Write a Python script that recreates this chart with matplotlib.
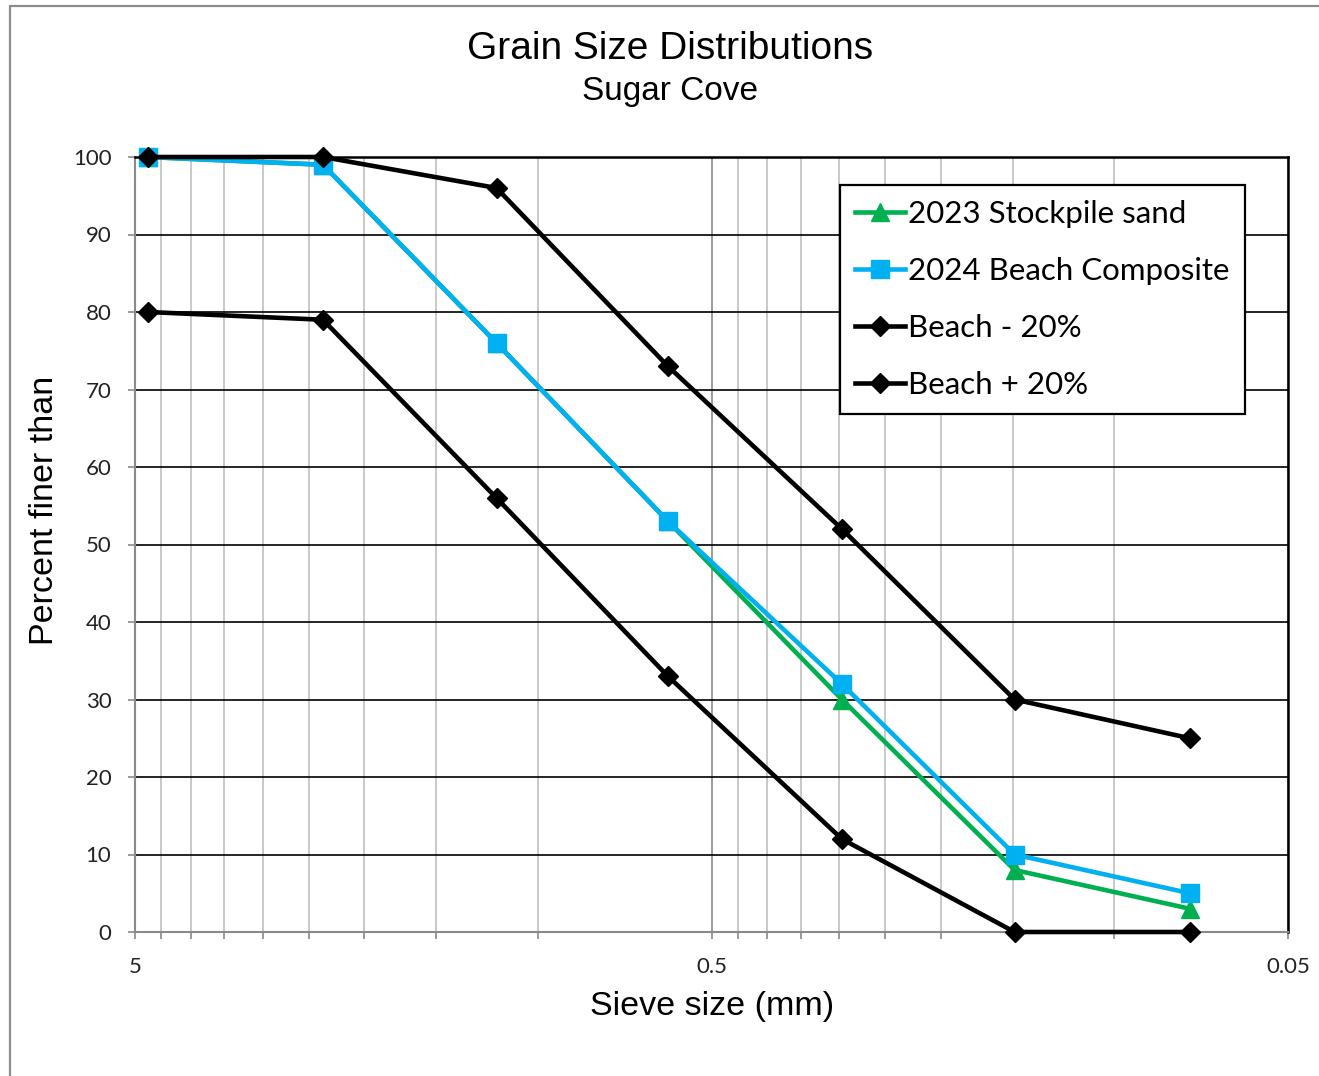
import matplotlib
matplotlib.use("Agg")
import matplotlib.pyplot as plt
from matplotlib.ticker import FixedLocator, NullFormatter, FixedFormatter
from matplotlib.patches import Rectangle

# Data
sieve_mm = [4.75, 2.36, 1.18, 0.595, 0.297, 0.149, 0.074]
stockpile_2023 = [100, 99, 76, 53, 30, 8, 3]
beach_2024 = [100, 99, 76, 53, 32, 10, 5]
beach_minus20 = [80, 79, 56, 33, 12, 0, 0]
beach_plus20 = [100, 100, 96, 73, 52, 30, 25]
labels = ["2023 Stockpile sand", "2024 Beach Composite", "Beach - 20%", "Beach + 20%"]
y_ticks = [0, 10, 20, 30, 40, 50, 60, 70, 80, 90, 100]
x_major = [5, 0.5, 0.05]
x_major_labels = ["5", "0.5", "0.05"]
x_minor = [4.5, 4, 3.5, 3, 2.5, 2, 1.5, 1,
           0.45, 0.4, 0.35, 0.3, 0.25, 0.2, 0.15, 0.1]

W, H = 1319, 1076
fig = plt.figure(figsize=(W / 100, H / 100), dpi=100)
ax = fig.add_axes([135 / W, 1 - 932 / H, (1288 - 135) / W, (932 - 157) / H])

ax.set_xscale("log")
ax.set_xlim(5, 0.05)
ax.set_ylim(0, 100)

# grid
ax.xaxis.set_major_locator(FixedLocator(x_major))
ax.xaxis.set_major_formatter(FixedFormatter(x_major_labels))
ax.xaxis.set_minor_locator(FixedLocator(x_minor))
ax.xaxis.set_minor_formatter(NullFormatter())
ax.yaxis.set_major_locator(FixedLocator(y_ticks))
ax.grid(True, axis="x", which="major", color="#8a8a8a", lw=1.2, zorder=0)
ax.grid(True, axis="x", which="minor", color="#c0c0c0", lw=1.2, zorder=0)
ax.grid(True, axis="y", which="major", color="black", lw=1.2, zorder=0)
ax.set_axisbelow(True)

ax.tick_params(axis="x", which="both", direction="out", length=5, width=1.2,
               color="#8a8a8a", pad=13)
ax.tick_params(axis="y", which="both", direction="out", length=5, width=1.2,
               color="#8a8a8a", pad=12)
for lab in ax.get_xticklabels() + ax.get_yticklabels():
    lab.set_fontfamily("Lato")
    lab.set_fontsize(16)
    lab.set_color("#222222")

for side in ["left", "bottom"]:
    ax.spines[side].set_color("#8a8a8a")
    ax.spines[side].set_linewidth(1.5)
for side in ["top", "right"]:
    ax.spines[side].set_color("black")
    ax.spines[side].set_linewidth(1.8)

green = "#00B050"
blue = "#00B0F0"
ax.plot(sieve_mm, stockpile_2023, color=green, lw=3.3, marker="^", ms=13,
        label=labels[0], zorder=3, clip_on=False)
ax.plot(sieve_mm, beach_2024, color=blue, lw=3.3, marker="s", ms=12.5,
        label=labels[1], zorder=4, clip_on=False)
ax.plot(sieve_mm, beach_minus20, color="black", lw=3.3, marker="D", ms=10.5,
        label=labels[2], zorder=5, clip_on=False)
ax.plot(sieve_mm, beach_plus20, color="black", lw=3.3, marker="D", ms=10.5,
        label=labels[3], zorder=5, clip_on=False)

leg = ax.legend(loc="upper left", bbox_to_anchor=((840 - 135) / 1153, (932 - 185) / 775),
                borderaxespad=0, frameon=True, fancybox=False, edgecolor="black",
                prop=dict(family="Lato", size=22.5), handlelength=1.6, handletextpad=0.1,
                labelspacing=0.93, borderpad=0.48)
leg.get_frame().set_linewidth(1.6)
leg.get_frame().set_alpha(1)

fig.text(670 / W, 1 - 49 / H, "Grain Size Distributions", ha="center", va="center",
         family="Liberation Sans", fontsize=28)
fig.text(670 / W, 1 - 92 / H, "Sugar Cove", ha="center", va="center",
         family="Liberation Sans", fontsize=24)
fig.text(712 / W, 1 - 1006 / H, "Sieve size (mm)", ha="center", va="center",
         family="Liberation Sans", fontsize=24.5)
fig.text(45 / W, 1 - 510 / H, "Percent finer than", ha="center", va="center",
         rotation=90, family="Liberation Sans", fontsize=24.5)

# outer chart border
fig.patches.append(Rectangle((10 / W, -0.05), 1.2, 1 - 6 / H + 0.05,
                             transform=fig.transFigure, fill=False,
                             edgecolor="#8c8c8c", lw=1.6))

fig.savefig("out.png", dpi=100)
